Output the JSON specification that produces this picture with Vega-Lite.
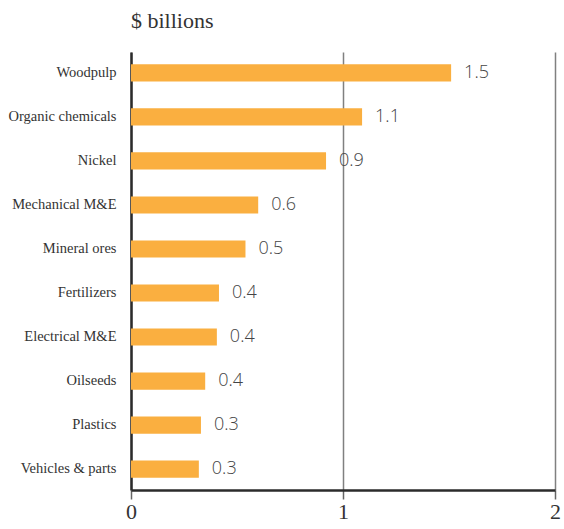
{
  "$schema": "https://vega.github.io/schema/vega-lite/v6.json",
  "autosize": "none",
  "padding": {"left": 131, "top": 52, "right": 9, "bottom": 39},
  "width": 424,
  "height": 438,
  "background": "white",
  "title": {
    "text": "$ billions",
    "anchor": "start",
    "frame": "group",
    "offset": 19
  },
  "data": {
    "values": [
      {"product": "Woodpulp", "value": 1.51, "label": "1.5"},
      {"product": "Organic chemicals", "value": 1.09, "label": "1.1"},
      {"product": "Nickel", "value": 0.92, "label": "0.9"},
      {"product": "Mechanical M&E", "value": 0.6, "label": "0.6"},
      {"product": "Mineral ores", "value": 0.54, "label": "0.5"},
      {"product": "Fertilizers", "value": 0.415, "label": "0.4"},
      {"product": "Electrical M&E", "value": 0.405, "label": "0.4"},
      {"product": "Oilseeds", "value": 0.35, "label": "0.4"},
      {"product": "Plastics", "value": 0.33, "label": "0.3"},
      {"product": "Vehicles & parts", "value": 0.32, "label": "0.3"}
    ]
  },
  "encoding": {
    "y": {
      "field": "product",
      "type": "nominal",
      "sort": null,
      "scale": {"paddingInner": 0.61, "paddingOuter": 0.28},
      "axis": {
        "title": null,
        "ticks": false,
        "domain": true,
        "domainColor": "#2b2b2b",
        "domainWidth": 2.5,
        "labelFont": "Liberation Serif",
        "labelFontSize": 14.5,
        "labelColor": "#333333",
        "labelPadding": 15,
        "labelLimit": 200
      }
    },
    "x": {
      "field": "value",
      "type": "quantitative",
      "scale": {"domain": [0, 2], "nice": false},
      "axis": {
        "title": null,
        "values": [0, 1, 2],
        "format": ".0f",
        "grid": true,
        "gridColor": "#808080",
        "gridWidth": 1.5,
        "domainColor": "#2b2b2b",
        "domainWidth": 2.5,
        "ticks": true,
        "tickColor": "#666666",
        "tickSize": 9,
        "tickWidth": 1.5,
        "labelFont": "Liberation Serif",
        "labelFontSize": 22,
        "labelColor": "#333333",
        "labelPadding": 2,
        "labelFlush": false,
        "labelOverlap": false,
        "labelBound": false
      }
    }
  },
  "layer": [
    {
      "mark": {"type": "bar", "color": "#FAAF40"}
    },
    {
      "mark": {
        "type": "text",
        "align": "left",
        "baseline": "middle",
        "dx": 13,
        "font": "Open Sans",
        "fontSize": 18,
        "fontWeight": 300,
        "color": "#444444"
      },
      "encoding": {"text": {"field": "label", "type": "nominal"}}
    }
  ],
  "config": {
    "view": {"stroke": null},
    "title": {
      "font": "Liberation Serif",
      "fontSize": 22,
      "fontWeight": "normal",
      "color": "#333333"
    }
  }
}
